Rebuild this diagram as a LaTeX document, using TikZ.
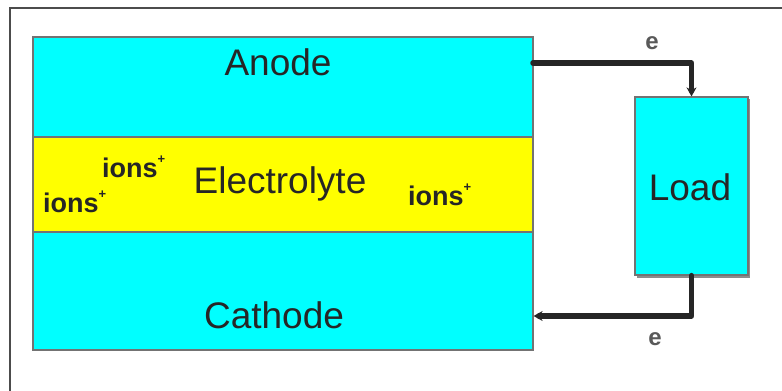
\documentclass[tikz,border=0pt]{standalone}
\usepackage{fontspec}
\setmainfont{Liberation Sans}
\usetikzlibrary{arrows.meta,calc}
\definecolor{cy}{HTML}{00FFFF}
\definecolor{ye}{HTML}{FFFF00}
\newcommand{\ionsup}{\raisebox{0.5em}{\fontsize{13}{13}\selectfont +}}
\tikzset{
  blk/.style={draw=black!55, line width=1.2pt, inner sep=0pt},
  big/.style={font=\fontsize{37}{40}\selectfont, text=black!85, inner sep=0pt},
  ion/.style={font=\bfseries\fontsize{27}{30}\selectfont, text=black!85, inner sep=0pt, anchor=base west},
  wire/.style={line width=5.5pt, black!85, line cap=round, line join=round},
  elab/.style={font=\bfseries\fontsize{24}{24}\selectfont, text=black!65, inner sep=0pt}
}
\begin{document}
\begin{tikzpicture}[x=1pt,y=-1pt]
\useasboundingbox (0,0) rectangle (782,391);
\fill[white] (0,0) rectangle (782,391);
\draw[line width=2pt, black!70] (10,391) -- (10,8) -- (782,8);
% layers
\node[blk, fill=cy, minimum width=500pt, minimum height=100pt] (anode) at (283,87) {};
\node[blk, fill=ye, minimum width=500pt, minimum height=95pt] (elec) at (283,184.5) {};
\node[blk, fill=cy, minimum width=500pt, minimum height=118pt] (cath) at (283,291) {};
\node[big] (anodet) at (278,62) {Anode};
\node[big] (elect) at (280,184) {Electrolyte};
\node[big] (catht) at (274,315) {Cathode};
\node[ion] (ion1) at (102,177) {ions\ionsup};
\node[ion] (ion2) at (43,212) {ions\ionsup};
\node[ion] (ion3) at (408,205) {ions\ionsup};
% load
\fill[black!45] (637,99) rectangle (750,278);
\node[blk, fill=cy, minimum width=113pt, minimum height=178pt] (load) at (691.5,186) {};
\node[big] (loadt) at (690,187) {Load};
% wires
\coordinate (topw) at (533,63);
\coordinate (botw) at (0,316);
\draw[wire, -{Stealth[length=9pt,width=10pt]}] (topw) -| (load.north);
\draw[wire, -{Stealth[length=9pt,width=10pt]}] (load.south) |- (cath.east |- botw);
\node[elab] (e1) at (652,43) {e};
\node[elab] (e2) at (655,339) {e};
\end{tikzpicture}
\end{document}
